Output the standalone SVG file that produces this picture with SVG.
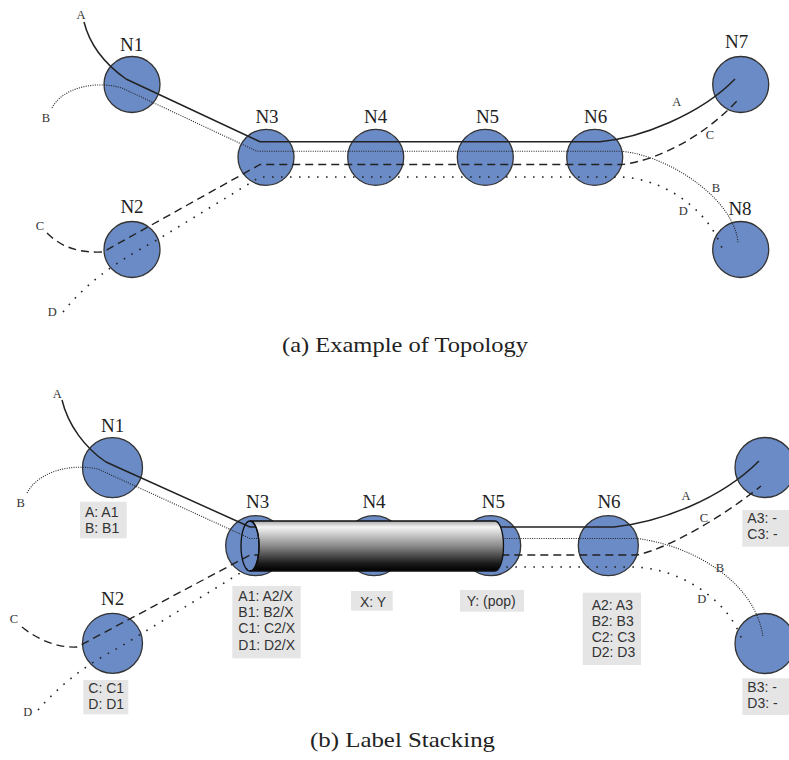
<svg xmlns="http://www.w3.org/2000/svg" width="789" height="760" viewBox="0 0 789 760">
  <style>
    .node { fill: #6b8bc6; stroke: #333; stroke-width: 1.3; }
    .nlabel { font-family: 'Liberation Serif', 'DejaVu Serif', serif; font-size: 19px; fill: #222; text-anchor: middle; }
    .elabel { font-family: 'Liberation Serif', 'DejaVu Serif', serif; font-size: 12.5px; fill: #333; text-anchor: middle; }
    .caption { font-family: 'Liberation Serif', 'DejaVu Serif', serif; font-size: 21px; fill: #222; }
    .box { fill: #e5e5e5; stroke: none; }
    .stack { font-family: 'Liberation Sans', Arial, sans-serif; font-size: 14px; fill: #333; }
    .lsp { fill: none; stroke: #222; stroke-linejoin: round; }
    .la { stroke-width: 1.5; }
    .lb { stroke-width: 1.1; stroke-dasharray: 1 1.3; }
    .lc { stroke-width: 1.4; stroke-dasharray: 8 5; }
    .ld { stroke-width: 1.6; stroke-dasharray: 1.6 7.4; }
    .tube { fill: url(#tubeShade); stroke: #111; stroke-width: 1.3; }
    .tubeFace { fill: none; stroke: #111; stroke-width: 1.3; }
  </style>
  <defs>
    <linearGradient id="tubeShade" x1="0" y1="0" x2="0" y2="1">
      <stop offset="0" stop-color="#a8a8a8"/>
      <stop offset="0.12" stop-color="#f4f4f4"/>
      <stop offset="0.5" stop-color="#8a8a8a"/>
      <stop offset="0.85" stop-color="#1a1a1a"/>
      <stop offset="1" stop-color="#000"/>
    </linearGradient>
  </defs>

  <rect width="789" height="760" fill="#fff"/>

  <!-- ===== (a) Example of Topology ===== -->
  <g id="topology">
    <g id="a-N1"><circle class="node" cx="132" cy="84.5" r="28"/><text class="nlabel" x="131.7" y="50.7">N1</text></g>
    <g id="a-N2"><circle class="node" cx="132" cy="249.5" r="28"/><text class="nlabel" x="132" y="213.3">N2</text></g>
    <g id="a-N3"><circle class="node" cx="266" cy="157.3" r="28"/><text class="nlabel" x="267" y="122.7">N3</text></g>
    <g id="a-N4"><circle class="node" cx="375.7" cy="157.3" r="28"/><text class="nlabel" x="375.7" y="122.7">N4</text></g>
    <g id="a-N5"><circle class="node" cx="485.3" cy="157.3" r="28"/><text class="nlabel" x="487.5" y="122.7">N5</text></g>
    <g id="a-N6"><circle class="node" cx="594.7" cy="157.3" r="28"/><text class="nlabel" x="595.7" y="122.7">N6</text></g>
    <g id="a-N7"><circle class="node" cx="740.7" cy="84.5" r="28"/><text class="nlabel" x="736.7" y="47.7">N7</text></g>
    <g id="a-N8"><circle class="node" cx="740.7" cy="249.5" r="28"/><text class="nlabel" x="740" y="215">N8</text></g>

    <g id="a-connectors">
      <path class="lsp la" d="M84,22 C89,42 102,62 126,79 L260,141.7 H600 C640,138 700,115 735,79"/>
      <path class="lsp lb" d="M52,108 C62,88 95,80 122,88 L257,151.3 H622 C670,156 735,200 738,243"/>
      <path class="lsp lc" d="M47,233 C62,248 80,253 103,252 L260,164.5 H622 C660,160 705,135 737,101"/>
      <path class="lsp ld" d="M63,312 C85,285 110,265 157,240 L260,177 H620 C660,178 705,205 722,248"/>
      <text class="elabel" x="81" y="19">A</text>
      <text class="elabel" x="46" y="121.7">B</text>
      <text class="elabel" x="40" y="230">C</text>
      <text class="elabel" x="52.3" y="315.7">D</text>
      <text class="elabel" x="676.7" y="106">A</text>
      <text class="elabel" x="710" y="139.3">C</text>
      <text class="elabel" x="716" y="191.7">B</text>
      <text class="elabel" x="683.3" y="215">D</text>
    </g>

    <text class="caption" x="282" y="352.3" textLength="246" lengthAdjust="spacingAndGlyphs">(a) Example of Topology</text>
  </g>

  <!-- ===== (b) Label Stacking ===== -->
  <g id="stacking">
    <g id="b-N1">
      <circle class="node" cx="112.5" cy="467.7" r="30"/>
      <text class="nlabel" x="112.7" y="431.7">N1</text>
      <rect class="box" x="80" y="501.7" width="46.7" height="36.6"/>
      <text class="stack" x="85" y="516.7">A: A1</text>
      <text class="stack" x="85" y="532.7">B: B1</text>
    </g>
    <g id="b-N2">
      <circle class="node" cx="112.5" cy="643.3" r="30"/>
      <text class="nlabel" x="112.7" y="605">N2</text>
      <rect class="box" x="83.3" y="680" width="45" height="34.3"/>
      <text class="stack" x="88.3" y="693.3">C: C1</text>
      <text class="stack" x="88.3" y="709.3">D: D1</text>
    </g>
    <g id="b-N3">
      <circle class="node" cx="255.7" cy="545.7" r="30"/>
      <text class="nlabel" x="257.7" y="508.3">N3</text>
      <rect class="box" x="232.3" y="586" width="68.4" height="72.3"/>
      <text class="stack" x="238.3" y="601">A1: A2/X</text>
      <text class="stack" x="238.3" y="617.2">B1: B2/X</text>
      <text class="stack" x="238.3" y="633.4">C1: C2/X</text>
      <text class="stack" x="238.3" y="649.6">D1: D2/X</text>
    </g>
    <g id="b-N4">
      <circle class="node" cx="374" cy="545.7" r="30"/>
      <text class="nlabel" x="374" y="508">N4</text>
      <rect class="box" x="351" y="591" width="41.7" height="19.7"/>
      <text class="stack" x="360" y="606.7">X: Y</text>
    </g>
    <g id="b-N5">
      <circle class="node" cx="490.7" cy="545.7" r="30"/>
      <text class="nlabel" x="493.3" y="507.7">N5</text>
      <rect class="box" x="460" y="590" width="64" height="21.7"/>
      <text class="stack" x="466.7" y="606">Y: (pop)</text>
    </g>
    <g id="b-N6">
      <circle class="node" cx="608.3" cy="545.7" r="30"/>
      <text class="nlabel" x="609" y="508.3">N6</text>
      <rect class="box" x="582.7" y="592.7" width="58.3" height="72.3"/>
      <text class="stack" x="591.7" y="610">A2: A3</text>
      <text class="stack" x="591.7" y="625.8">B2: B3</text>
      <text class="stack" x="591.7" y="641.6">C2: C3</text>
      <text class="stack" x="591.7" y="657.4">D2: D3</text>
    </g>
    <g id="b-N7">
      <circle class="node" cx="765" cy="467.5" r="30"/>
      <rect class="box" x="742.3" y="510" width="50" height="36.7"/>
      <text class="stack" x="747.3" y="523.3">A3: -</text>
      <text class="stack" x="747.3" y="539.3">C3: -</text>
    </g>
    <g id="b-N8">
      <circle class="node" cx="765" cy="643.5" r="30"/>
      <rect class="box" x="742.3" y="678.3" width="50" height="36.7"/>
      <text class="stack" x="747.3" y="692.3">B3: -</text>
      <text class="stack" x="747.3" y="707.7">D3: -</text>
    </g>

    <g id="b-connectors">
      <path class="lsp la" d="M62,400 C68,425 85,448 106,462 L250,527 H614 C660,522 720,500 759,461"/>
      <path class="lsp lb" d="M27,493 C38,472 70,463 98,469 L250,538.5 H637 C690,545 755,580 763,637"/>
      <path class="lsp lc" d="M22,627 C38,640 58,648 77,647 L250,555 H637 C670,548 725,515 761,486"/>
      <path class="lsp ld" d="M38,710 C60,685 85,665 120,647 L250,567 H633 C680,568 730,600 743,643"/>
      <text class="elabel" x="57.3" y="397.5">A</text>
      <text class="elabel" x="20.7" y="506.7">B</text>
      <text class="elabel" x="14" y="623.3">C</text>
      <text class="elabel" x="27.7" y="715.7">D</text>
      <text class="elabel" x="686" y="500">A</text>
      <text class="elabel" x="704" y="521.5">C</text>
      <text class="elabel" x="720" y="571.7">B</text>
      <text class="elabel" x="701.7" y="603.3">D</text>
    </g>

    <!-- tunnel from N3 to N5 carrying the stacked label X -->
    <g id="tunnel">
      <path class="tube" d="M250,521 H495 A8.5,25 0 0 1 495,571 H250 A9,25 0 0 0 250,521 Z"/>
      <ellipse class="tubeFace" cx="250" cy="546" rx="9" ry="25"/>
    </g>

    <text class="caption" x="310" y="747.3" textLength="185" lengthAdjust="spacingAndGlyphs">(b) Label Stacking</text>
  </g>
</svg>
